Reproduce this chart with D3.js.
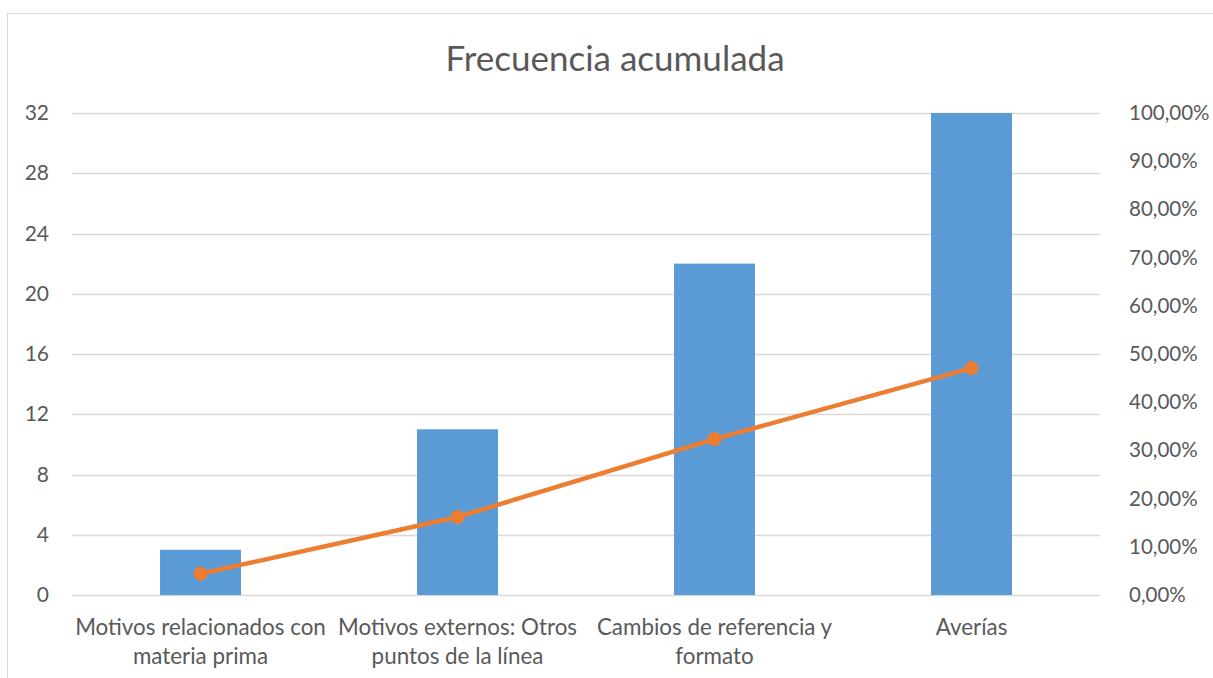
<!DOCTYPE html>
<html>
<head>
<meta charset="utf-8">
<script src="https://cdn.jsdelivr.net/npm/d3@7"></script>
<style>
  body { margin: 0; background: #fff; }
  text { font-family: Lato, "Open Sans", sans-serif; fill: #595959; }
</style>
</head>
<body>
<svg width="1213" height="678"></svg>
<script>
// data
var categories = [
  "Motivos relacionados con|materia prima",
  "Motivos externos: Otros|puntos de la línea",
  "Cambios de referencia y|formato",
  "Averías"
];
var frequency = [3, 11, 22, 32];
var cumulativePct = [0.0441, 0.1618, 0.3235, 0.4706];
var leftTicks = [0, 4, 8, 12, 16, 20, 24, 28, 32];
var rightTicks = [0, 0.1, 0.2, 0.3, 0.4, 0.5, 0.6, 0.7, 0.8, 0.9, 1];

var svg = d3.select("svg"),
    margin = {top: 113, right: 113, bottom: 83, left: 72},
    width = 1213 - margin.left - margin.right,
    height = 678 - margin.top - margin.bottom;

// chart frame
svg.append("rect")
    .attr("x", 7.5).attr("y", 13.5)
    .attr("width", 1240).attr("height", 700)
    .attr("fill", "none")
    .attr("stroke", "#d9d9d9")
    .attr("stroke-width", 1);

svg.append("text")
    .attr("x", 615).attr("y", 71)
    .attr("text-anchor", "middle")
    .style("font-size", "35px")
    .text("Frecuencia acumulada");

var x = d3.scaleBand().domain(categories).range([0, width]).paddingInner(0.685).paddingOuter(0.3425),
    xc = d3.scaleBand().domain(categories).range([0, width]),
    y = d3.scaleLinear().domain([0, 32]).range([height, 0]),
    y2 = d3.scaleLinear().domain([0, 1]).range([height, 0]);

var g = svg.append("g")
    .attr("transform", "translate(" + margin.left + "," + margin.top + ")");

// gridlines
g.append("g")
  .selectAll("line")
  .data(leftTicks)
  .enter().append("line")
    .attr("x1", 0).attr("x2", width)
    .attr("y1", function(d) { return Math.round(y(d)) + 0.5; })
    .attr("y2", function(d) { return Math.round(y(d)) + 0.5; })
    .attr("stroke", "#d9d9d9")
    .attr("stroke-width", 1.5);

// left axis labels
var yAxis = d3.axisLeft(y).tickValues(leftTicks).tickSize(0).tickPadding(23);
var yAxisG = g.append("g").call(yAxis);
yAxisG.select(".domain").remove();
yAxisG.selectAll("text").style("font-size", "21px").style("fill", "#595959");

// right axis labels
var fmtPct = function(d) { return d3.format(".2f")(d * 100).replace(".", ",") + "%"; };
var yAxis2 = d3.axisRight(y2).tickValues(rightTicks).tickSize(0).tickPadding(20).tickFormat(fmtPct);
var yAxis2G = g.append("g").attr("transform", "translate(" + (width + 9) + ",0)").call(yAxis2);
yAxis2G.select(".domain").remove();
yAxis2G.selectAll("text").style("font-size", "20.5px").style("fill", "#595959");

// bars
g.append("g")
  .selectAll("rect")
  .data(frequency)
  .enter().append("rect")
    .attr("x", function(d, i) { return x(categories[i]); })
    .attr("width", x.bandwidth())
    .attr("y", function(d) { return y(d); })
    .attr("height", function(d) { return height - y(d); })
    .attr("fill", "#5b9bd5");

// category labels
var catG = g.append("g").attr("transform", "translate(0," + height + ")");
categories.forEach(function(c, i) {
  var t = catG.append("text")
      .attr("x", xc(c) + xc.bandwidth() / 2)
      .attr("y", 40)
      .attr("text-anchor", "middle")
      .style("font-size", "22.4px");
  c.split("|").forEach(function(line, j) {
    t.append("tspan")
        .attr("x", xc(c) + xc.bandwidth() / 2)
        .attr("dy", j === 0 ? 0 : 29)
        .text(line);
  });
});

// cumulative line
var line = d3.line()
    .x(function(d, i) { return xc(categories[i]) + xc.bandwidth() / 2; })
    .y(function(d) { return y2(d); });

g.append("path")
    .datum(cumulativePct)
    .attr("d", line)
    .attr("fill", "none")
    .attr("stroke", "#ed7d31")
    .attr("stroke-width", 4.5)
    .attr("stroke-linecap", "round");

g.append("g")
  .selectAll("circle")
  .data(cumulativePct)
  .enter().append("circle")
    .attr("cx", function(d, i) { return xc(categories[i]) + xc.bandwidth() / 2; })
    .attr("cy", function(d) { return y2(d); })
    .attr("r", 7)
    .attr("fill", "#ed7d31");
</script>
</body>
</html>
